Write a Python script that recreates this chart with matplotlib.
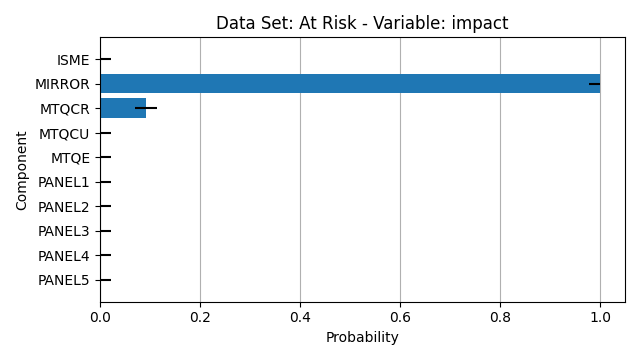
import numpy as np
from matplotlib import pyplot as plt

components = ['ISME', 'MIRROR', 'MTQCR', 'MTQCU', 'MTQE',
              'PANEL1', 'PANEL2', 'PANEL3', 'PANEL4', 'PANEL5']
prob = [0.0, 1.0, 0.092, 0.0, 0.0, 0.0, 0.0, 0.0, 0.0, 0.0]
err_low = [0.0, 0.022, 0.022, 0.0, 0.0, 0.0, 0.0, 0.0, 0.0, 0.0]
err_high = [0.022, 0.0, 0.022, 0.022, 0.022, 0.022, 0.022, 0.022, 0.022, 0.022]

fig, ax = plt.subplots(figsize=(6.4, 3.6), dpi=100)
y = np.arange(len(components))
ax.barh(y, prob, xerr=[err_low, err_high], color='#1f77b4', ecolor='black')
ax.set_yticks(y)
ax.set_yticklabels(components)
ax.invert_yaxis()
ax.set_xlim(0, 1.05)
ax.grid(axis='x')
ax.set_axisbelow(True)
ax.set_xlabel('Probability')
ax.set_ylabel('Component')
ax.set_title('Data Set: At Risk - Variable: impact')
fig.tight_layout()
fig.savefig('out.png')
